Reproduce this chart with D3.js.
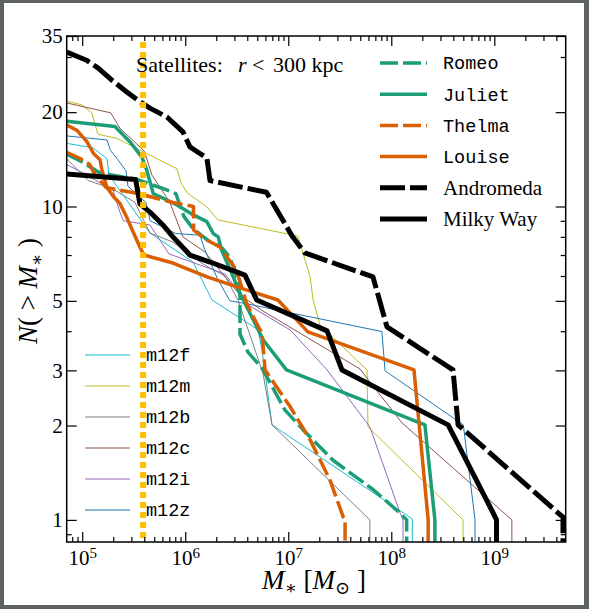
<!DOCTYPE html>
<html lang="en">
<head>
<meta charset="UTF-8">
<title>satellites</title>
<script src="https://cdn.jsdelivr.net/npm/d3@7"></script>
<style>
  body { margin: 0; background: #5d6262; }
  svg { display: block; }
</style>
</head>
<body>
<svg width="589" height="609"></svg>
<script>
// cumulative satellite counts N(>M*), pairs of [M*, N]
var andromeda = [[7.07e4,31.1],[1.10e5,29.3],[1.42e5,27.7],[1.94e5,25.3],[2.71e5,23.2],[3.63e5,21.6],[4.54e5,20.6],[6.64e5,19.3],[9.5e5,17.3],[1.11e6,15.5],[1.33e6,14.9],[1.62e6,14.3],[1.74e6,12.1],[6.14e6,11.1],[1.09e7,8.05],[1.45e7,7.11],[6.64e7,5.96],[9.08e7,4.13],[3.97e8,3.01],[4.45e8,2.01],[4.64e9,1.02],[4.64e9,1]];
var milkyway = [[7.07e4,12.7],[3.3e5,12.2],[3.63e5,10.2],[4.54e5,9.6],[6.07e5,8.73],[7.6e5,8.0],[1.11e6,7.0],[1.74e6,6.65],[3.8e6,6.04],[4.94e6,5.03],[2.38e7,4.01],[3.32e7,3.01],[3.56e8,2.01],[9.77e8,1.05],[1.05e9,1]];
var romeo = [[7.07e4,14.7],[9.5e4,14.0],[1.49e5,12.8],[3.4e5,12.2],[5.68e5,11.5],[8.1e5,11.0],[9.7e5,9.3],[1.19e6,8.5],[1.66e6,7.8],[2.27e6,7.38],[2.65e6,6.95],[3.10e6,6.18],[3.40e6,5.18],[3.40e6,3.92],[4.06e6,3.43],[5.56e6,3.05],[9.3e6,2.24],[1.39e7,1.94],[2.72e7,1.55],[6.65e7,1.25],[1.22e8,1.05],[1.41e8,1]];
var juliet = [[7.07e4,18.7],[2.08e5,18.0],[2.90e5,16.1],[3.78e5,14.4],[4.22e5,13.1],[4.89e5,11.0],[7.94e5,10.2],[1.20e6,9.4],[1.62e6,8.95],[1.87e6,8.2],[2.09e6,8.0],[2.25e6,7.27],[2.92e6,5.97],[3.27e6,5.42],[3.66e6,5.03],[5.72e6,3.75],[9.6e6,3.01],[2.12e8,2.01],[2.65e8,1]];
var thelma = [[7.07e4,14.9],[9.66e4,14.2],[1.19e5,13.6],[1.30e5,12.8],[1.70e5,11.5],[3.47e5,11.0],[7.6e5,10.3],[1.2e6,10.0],[1.21e6,8.4],[1.54e6,7.89],[2.17e6,7.43],[3.14e6,6.27],[3.94e6,4.91],[5.12e6,4.14],[5.56e6,3.95],[5.95e6,3.01],[1.04e7,2.30],[1.63e7,1.80],[2.54e7,1.34],[3.42e7,1.02],[3.56e7,1]];
var louise = [[7.07e4,18.2],[8.9e4,17.5],[1.11e5,16.1],[1.30e5,14.7],[1.49e5,14.1],[1.55e5,13.1],[1.74e5,11.5],[2.03e5,10.7],[2.32e5,10.25],[2.72e5,9.2],[2.97e5,8.6],[3.63e5,7.43],[3.97e5,7.0],[7.6e5,6.6],[1.63e6,5.96],[3.40e6,5.5],[7.94e6,5.03],[1.55e7,3.98],[1.66e8,3.01],[2.28e8,1]];
var m12f = [[7.07e4,15.9],[1.27e5,15.4],[1.74e5,14.2],[1.82e5,12.6],[3.88e5,8.86],[4.54e5,8.23],[1.19e6,6.65],[1.82e6,5.03],[3.40e6,4.41],[5.08e6,4.04],[5.56e6,3.49],[6.95e6,2.01],[1.58e8,1.01],[1.6e8,1]];
var m12m = [[7.07e4,21.7],[9.9e4,21.1],[1.24e5,19.9],[1.42e5,17.0],[2.17e5,16.5],[4.15e5,14.8],[8.3e5,13.2],[9.1e5,11.9],[1.06e6,11.0],[1.62e6,9.98],[2.08e6,9.06],[1.24e7,8.05],[1.63e7,5.96],[1.74e7,5.03],[2.03e7,4.19],[5.81e7,3.01],[5.94e7,1.98],[4.97e8,1]];
var m12b = [[7.07e4,14.2],[1.14e5,12.1],[1.97e5,11.4],[3.25e5,10.3],[4.54e5,8.23],[7.6e5,7.7],[1.49e6,6.55],[2.43e6,6.0],[3.25e6,5.03],[5.68e6,2.94],[6.95e6,2.01],[6.2e7,1]];
var m12c = [[7.07e4,21.4],[1.89e5,19.9],[2.32e5,17.8],[4.02e5,15.0],[4.75e5,12.6],[7.1e5,10.3],[9.5e5,8.0],[1.55e6,7.16],[3.40e6,5.22],[5.68e6,4.64],[4.97e7,3.03],[5.68e7,2.86],[1.27e8,2.04],[1.48e9,1]];
var m12i = [[7.07e4,13.6],[8.9e4,13.1],[1.99e5,11.3],[2.32e5,9.6],[2.51e5,9.0],[4.54e5,8.73],[6.95e5,7.06],[2.43e6,6.09],[4.25e6,4.81],[1.04e7,4.04],[2.38e7,3.01],[6.2e7,1.98],[1.22e8,1.05],[1.3e8,1]];
var m12z = [[7.07e4,16.8],[1.74e5,16.3],[1.88e5,15.1],[2.22e5,14.1],[2.66e5,13.0],[2.78e5,11.6],[4.15e5,10.3],[4.57e5,9.0],[8.1e5,8.2],[1.39e6,8.1],[1.55e6,7.27],[2.08e6,5.83],[2.72e6,5.0],[3.97e6,4.89],[8.1e7,3.99],[8.7e7,2.99],[5.0e8,2.01],[6.5e8,1]];

var massCut = 3.9e5;          // dotted resolution limit
var xMajor = [1e5, 1e6, 1e7, 1e8, 1e9];
var yMajor = [1, 2, 3, 5, 10, 20, 35];
var yMinor = [0.9, 4, 6, 7, 8, 9, 30];

var green = "#1b9e77", orange = "#d95f02";
var thin = [
    { name: "m12f", data: m12f, color: "#17becf" },
    { name: "m12m", data: m12m, color: "#bcbd22" },
    { name: "m12b", data: m12b, color: "#7f7f7f" },
    { name: "m12c", data: m12c, color: "#8c564b" },
    { name: "m12i", data: m12i, color: "#9467bd" },
    { name: "m12z", data: m12z, color: "#1f77b4" }
];
var thick = [
    { name: "Romeo", data: romeo, color: green, w: 3.5, dash: "18,5", mono: true },
    { name: "Juliet", data: juliet, color: green, w: 3.5, dash: null, mono: true },
    { name: "Thelma", data: thelma, color: orange, w: 3.5, dash: "18,5", mono: true },
    { name: "Louise", data: louise, color: orange, w: 3.5, dash: null, mono: true },
    { name: "Andromeda", data: andromeda, color: "#000", w: 5, dash: "25,5", mono: false },
    { name: "Milky Way", data: milkyway, color: "#000", w: 5, dash: null, mono: false }
];

var svg = d3.select("svg");
var pL = 66.7, pR = 565.7, pT = 36, pB = 542;
var serif = "'Liberation Serif', 'DejaVu Serif', serif";
var mono = "'Liberation Mono', 'DejaVu Sans Mono', monospace";

// page frame
svg.append("rect").attr("x", 4).attr("y", 3).attr("width", 580).attr("height", 602).attr("fill", "#fff");

var x = d3.scaleLog().domain([7.07e4, 4.93e9]).range([pL, pR]);
var y = d3.scaleLog().domain([0.85, 35]).range([pB, pT]);

svg.append("clipPath").attr("id", "plot")
    .append("rect").attr("x", pL).attr("y", pT).attr("width", pR - pL).attr("height", pB - pT);

var line = d3.line().x(function(d){ return x(d[0]); }).y(function(d){ return y(d[1]); });
// after the last satellite the count falls to zero, off the bottom of the axis
function withDrop(data) {
    var last = data[data.length - 1];
    return data.concat([[last[0], y.domain()[0] * 0.5]]);
}

var plot = svg.append("g").attr("clip-path", "url(#plot)");
plot.selectAll("path.thin").data(thin).enter().append("path")
    .attr("class", "thin")
    .attr("d", function(d){ return line(withDrop(d.data)); })
    .attr("fill", "none").attr("stroke", function(d){ return d.color; })
    .attr("stroke-width", 1).attr("stroke-linejoin", "round");
plot.selectAll("path.thick").data(thick).enter().append("path")
    .attr("class", "thick")
    .attr("d", function(d){ return line(withDrop(d.data)); })
    .attr("fill", "none").attr("stroke", function(d){ return d.color; })
    .attr("stroke-width", function(d){ return d.w; })
    .attr("stroke-dasharray", function(d){ return d.dash; })
    .attr("stroke-linejoin", "round");
plot.append("line")
    .attr("x1", x(massCut)).attr("x2", x(massCut))
    .attr("y1", y(35) + 6).attr("y2", pB)
    .attr("stroke", "#ffbf00").attr("stroke-width", 6)
    .attr("stroke-dasharray", "6,4");

// minor ticks of a log axis
function minors(lo, hi) {
    var out = [];
    for (var e = Math.floor(Math.log10(lo)); e <= Math.ceil(Math.log10(hi)); e++) {
        for (var k = 2; k <= 9; k++) {
            var v = k * Math.pow(10, e);
            if (v > lo && v < hi) out.push(v);
        }
    }
    return out;
}
var xMinor = minors(x.domain()[0], x.domain()[1]);

function axisG(axis, tx, ty) {
    var g = svg.append("g").attr("transform", "translate(" + tx + "," + ty + ")").call(axis);
    g.select(".domain").remove();
    g.selectAll("line").attr("stroke", "#000").attr("stroke-width", 1.2);
    return g;
}
var none = function(){ return ""; };
axisG(d3.axisBottom(x).tickValues(xMinor).tickSizeInner(-5).tickSizeOuter(0).tickFormat(none), 0, pB);
axisG(d3.axisTop(x).tickValues(xMinor).tickSizeInner(-5).tickSizeOuter(0).tickFormat(none), 0, pT);
axisG(d3.axisTop(x).tickValues(xMajor).tickSizeInner(-10).tickSizeOuter(0).tickFormat(none), 0, pT);
axisG(d3.axisLeft(y).tickValues(yMinor).tickSizeInner(-5).tickSizeOuter(0).tickFormat(none), pL, 0);
axisG(d3.axisRight(y).tickValues(yMinor).tickSizeInner(-5).tickSizeOuter(0).tickFormat(none), pR, 0);
axisG(d3.axisRight(y).tickValues(yMajor).tickSizeInner(-10).tickSizeOuter(0).tickFormat(none), pR, 0);

var gx = axisG(d3.axisBottom(x).tickValues(xMajor).tickSizeInner(-10).tickSizeOuter(0).tickPadding(8), 0, pB);
gx.selectAll(".tick text").each(function(d) {
    var t = d3.select(this).text(null)
        .attr("font-family", serif).attr("font-size", 21).attr("fill", "#000");
    t.append("tspan").text("10");
    t.append("tspan").attr("dy", "-0.45em").attr("font-size", 15).text(Math.round(Math.log10(d)));
});
var gy = axisG(d3.axisLeft(y).tickValues(yMajor).tickSizeInner(-10).tickSizeOuter(0).tickPadding(4).tickFormat(d3.format("d")), pL, 0);
gy.selectAll(".tick text").attr("font-family", serif).attr("font-size", 21).attr("fill", "#000");

svg.append("rect").attr("x", pL).attr("y", pT).attr("width", pR - pL).attr("height", pB - pT)
    .attr("fill", "none").attr("stroke", "#000").attr("stroke-width", 1.5);

// annotation
var ann = svg.append("g").attr("font-family", serif).attr("font-size", 22).attr("fill", "#000");
ann.append("text").attr("x", 136).attr("y", 72).text("Satellites:");
ann.append("text").attr("x", 238).attr("y", 72).attr("font-style", "italic").text("r");
ann.append("text").attr("x", 252).attr("y", 72).text("<");
ann.append("text").attr("x", 273).attr("y", 72).text("300 kpc");

// legend, top right
var leg = svg.append("g");
thick.forEach(function(s, i) {
    var ly = 63 + i * 31.2;
    leg.append("line").attr("x1", 380).attr("x2", 427).attr("y1", ly).attr("y2", ly)
        .attr("stroke", s.color).attr("stroke-width", s.w).attr("stroke-dasharray", s.dash);
    leg.append("text").attr("x", 443).attr("y", ly).attr("dy", "0.35em")
        .attr("font-family", s.mono ? mono : serif).attr("font-size", s.mono ? 18.5 : 21)
        .attr("fill", "#000").text(s.name);
});
// legend, bottom left
thin.forEach(function(s, i) {
    var ly = 355 + i * 31;
    leg.append("line").attr("x1", 85).attr("x2", 130).attr("y1", ly).attr("y2", ly)
        .attr("stroke", s.color).attr("stroke-width", 1.2);
    leg.append("text").attr("x", 146).attr("y", ly).attr("dy", "0.35em")
        .attr("font-family", mono).attr("font-size", 18.5).attr("fill", "#000").text(s.name);
});

// axis labels
var xl = svg.append("text").attr("x", 314).attr("y", 589).attr("text-anchor", "middle")
    .attr("font-family", serif).attr("font-size", 27).attr("fill", "#000");
xl.append("tspan").attr("font-style", "italic").text("M");
xl.append("tspan").attr("dy", 5).attr("font-size", 18).text("\u2217");
xl.append("tspan").attr("dy", -5).text("  [");
xl.append("tspan").attr("font-style", "italic").text("M");
xl.append("tspan").attr("dy", 5).attr("font-size", 18).text("\u2299");
xl.append("tspan").attr("dy", -5).text(" ]");

var yl = svg.append("text").attr("transform", "translate(37,291) rotate(-90)").attr("text-anchor", "middle")
    .attr("font-family", serif).attr("font-size", 27).attr("fill", "#000");
yl.append("tspan").attr("font-style", "italic").text("N");
yl.append("tspan").text("( > ");
yl.append("tspan").attr("font-style", "italic").text("M");
yl.append("tspan").attr("dy", 6).attr("font-size", 18).text("\u2217");
yl.append("tspan").attr("dy", -6).text(" )");
</script>
</body>
</html>
